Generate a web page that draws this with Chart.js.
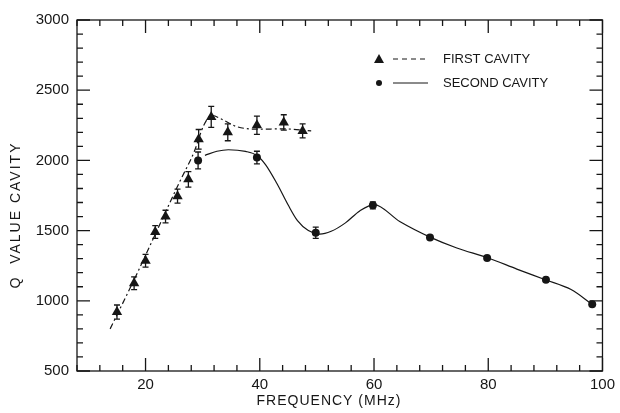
<!DOCTYPE html>
<html>
<head>
<meta charset="utf-8">
<script src="https://cdn.jsdelivr.net/npm/chart.js@4"></script>
<style>
  html, body { margin: 0; padding: 0; background: #fff; }
  #wrap { width: 620px; height: 413px; }
</style>
</head>
<body>
<div id="wrap"><canvas id="myChart" width="620" height="413"></canvas></div>
<script>
// measured points, first cavity (triangles)
const firstFreq = [15, 18, 20, 21.7, 23.5, 25.6, 27.5, 29.3, 31.5, 34.4, 39.5, 44.2, 47.5];
const firstQ = [920, 1125, 1285, 1490, 1600, 1745, 1865, 2150, 2310, 2200, 2250, 2270, 2210];
const firstErr = [50, 45, 45, 45, 45, 50, 55, 70, 75, 60, 65, 55, 50];

// measured points, second cavity (circles)
const secondFreq = [29.2, 39.5, 49.8, 59.8, 69.8, 79.8, 90.1, 98.2];
const secondQ = [2000, 2020, 1485, 1680, 1450, 1305, 1150, 975];
const secondErr = [60, 45, 40, 25, 0, 0, 0, 0];

// hand drawn curves
const firstCurveFreq = [13.8, 18, 22, 26, 28.5, 30.2, 31.6, 33.5, 36, 40, 44, 49];
const firstCurveQ = [800, 1150, 1500, 1850, 2060, 2250, 2320, 2290, 2240, 2222, 2225, 2210];
const secondCurveFreq = [30.4, 32.5, 34.5, 37.5, 39.5, 41, 43, 45, 46.6, 48.5, 50.5, 52.5, 55, 57.5, 60, 64.5, 70, 74.5, 80, 85, 90, 94.5, 98.2];
const secondCurveQ = [2036, 2065, 2076, 2064, 2035, 1970, 1835, 1680, 1571, 1500, 1475, 1495, 1555, 1640, 1685, 1565, 1450, 1376, 1305, 1226, 1150, 1080, 975];

const xMajorTicks = [20, 40, 60, 80, 100];
const yMajorTicks = [500, 1000, 1500, 2000, 2500, 3000];

const ink = "#161616";
const font = "'Liberation Sans', Arial, sans-serif";

const toPoints = (xs, ys) => xs.map((x, i) => ({ x, y: ys[i] }));

// error bars drawn under the markers
const errorBars = {
  id: "errorBars",
  beforeDatasetsDraw(chart) {
    const { ctx, scales: { x, y } } = chart;
    const sets = [[firstFreq, firstQ, firstErr], [secondFreq, secondQ, secondErr]];
    ctx.save();
    ctx.strokeStyle = ink;
    ctx.lineWidth = 1.3;
    sets.forEach(([fs, qs, es]) => {
      fs.forEach((f, i) => {
        if (!es[i]) return;
        const px = x.getPixelForValue(f);
        const top = y.getPixelForValue(qs[i] + es[i]);
        const bot = y.getPixelForValue(qs[i] - es[i]);
        ctx.beginPath();
        ctx.moveTo(px, top); ctx.lineTo(px, bot);
        ctx.moveTo(px - 3, top); ctx.lineTo(px + 3, top);
        ctx.moveTo(px - 3, bot); ctx.lineTo(px + 3, bot);
        ctx.stroke();
      });
    });
    ctx.restore();
  },
};

// box with inward ticks on all four sides, axis titles and legend
const frame = {
  id: "frame",
  afterDraw(chart) {
    const { ctx, chartArea: a, scales: { x, y } } = chart;
    ctx.save();
    ctx.strokeStyle = ink;
    ctx.lineWidth = 1.3;
    ctx.strokeRect(a.left, a.top, a.right - a.left, a.bottom - a.top);
    ctx.beginPath();
    x.ticks.forEach((t) => {
      const px = x.getPixelForValue(t.value);
      const len = xMajorTicks.includes(t.value) ? 13 : 6;
      ctx.moveTo(px, a.bottom); ctx.lineTo(px, a.bottom - len);
      ctx.moveTo(px, a.top); ctx.lineTo(px, a.top + len);
    });
    y.ticks.forEach((t) => {
      const py = y.getPixelForValue(t.value);
      const len = yMajorTicks.includes(t.value) ? 13 : 6;
      ctx.moveTo(a.left, py); ctx.lineTo(a.left + len, py);
      ctx.moveTo(a.right, py); ctx.lineTo(a.right - len, py);
    });
    ctx.stroke();

    ctx.fillStyle = ink;
    ctx.textAlign = "center";
    ctx.textBaseline = "middle";
    ctx.font = "14px " + font;

    // axis titles
    ctx.letterSpacing = "1px";
    ctx.fillText("FREQUENCY (MHz)", 329, 401);
    ctx.save();
    ctx.translate(16, 215);
    ctx.rotate(-Math.PI / 2);
    ctx.letterSpacing = "2px";
    ctx.fillText("Q  VALUE CAVITY", 0, 0);
    ctx.restore();
    ctx.letterSpacing = "0px";

    // legend inside the plot
    ctx.textAlign = "left";
    ctx.font = "13px " + font;
    const rows = [
      { y: 59, label: "FIRST CAVITY", dash: [5, 4] },
      { y: 83, label: "SECOND CAVITY", dash: [] },
    ];
    rows.forEach((r, i) => {
      ctx.beginPath();
      if (i === 0) {
        ctx.moveTo(379, r.y - 5); ctx.lineTo(384, r.y + 4); ctx.lineTo(374, r.y + 4);
        ctx.closePath();
      } else {
        ctx.arc(379, r.y, 3, 0, Math.PI * 2);
      }
      ctx.fill();
      ctx.beginPath();
      ctx.lineWidth = 1;
      ctx.setLineDash(r.dash);
      ctx.moveTo(393, r.y); ctx.lineTo(428, r.y);
      ctx.stroke();
      ctx.setLineDash([]);
      ctx.fillText(r.label, 443, r.y);
    });
    ctx.restore();
  },
};

const config = {
  type: "scatter",
  data: {
    datasets: [
      {
        type: "line",
        data: toPoints(firstCurveFreq, firstCurveQ),
        borderColor: ink,
        borderWidth: 1.2,
        borderDash: [6, 3, 2, 3],
        pointRadius: 0,
        cubicInterpolationMode: "monotone",
        fill: false,
      },
      {
        type: "line",
        data: toPoints(secondCurveFreq, secondCurveQ),
        borderColor: ink,
        borderWidth: 1.2,
        pointRadius: 0,
        cubicInterpolationMode: "monotone",
        fill: false,
      },
      {
        label: "FIRST CAVITY",
        data: toPoints(firstFreq, firstQ),
        pointStyle: "triangle",
        pointRadius: 6,
        backgroundColor: ink,
        borderColor: ink,
        borderWidth: 0,
      },
      {
        label: "SECOND CAVITY",
        data: toPoints(secondFreq, secondQ),
        pointStyle: "circle",
        pointRadius: 4,
        backgroundColor: ink,
        borderColor: ink,
        borderWidth: 0,
      },
    ],
  },
  options: {
    responsive: false,
    animation: false,
    layout: { padding: { top: 20, right: 12, left: 0, bottom: 0 } },
    plugins: { legend: { display: false }, tooltip: { enabled: false } },
    scales: {
      x: {
        type: "linear",
        min: 8,
        max: 100,
        afterFit: (s) => { s.height = 42; },
        grid: { display: false, drawTicks: false },
        border: { display: false },
        ticks: {
          stepSize: 4,
          autoSkip: false,
          maxRotation: 0,
          padding: 5,
          color: ink,
          font: { family: font, size: 15 },
          callback: (v) => (xMajorTicks.includes(v) ? v : ""),
        },
      },
      y: {
        min: 500,
        max: 3000,
        afterFit: (s) => { s.width = 77; },
        grid: { display: false, drawTicks: false },
        border: { display: false },
        ticks: {
          stepSize: 100,
          autoSkip: false,
          padding: 8,
          color: ink,
          font: { family: font, size: 15 },
          callback: (v) => (yMajorTicks.includes(v) ? v : ""),
        },
      },
    },
  },
  plugins: [errorBars, frame],
};

new Chart(document.getElementById("myChart"), config);
</script>
</body>
</html>
